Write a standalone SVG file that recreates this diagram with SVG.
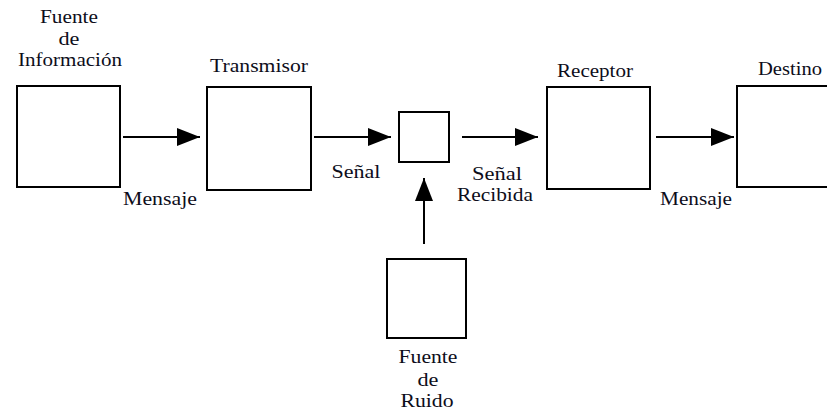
<svg xmlns="http://www.w3.org/2000/svg" width="827" height="410" viewBox="0 0 827 410">
<style>
.box{fill:#fff;stroke:#000;stroke-width:2}
.ln{stroke:#000;stroke-width:2;fill:none}
.t{font-family:'Liberation Serif','Times New Roman','DejaVu Serif',serif;font-size:18px;fill:#0d0d1a;text-anchor:middle}
</style>
<defs>
<marker id="ah" markerUnits="userSpaceOnUse" markerWidth="24" markerHeight="20" refX="23" refY="9" orient="auto">
<path d="M0,0 L23,9 L0,18 Z" fill="#000"/>
</marker>
</defs>
<rect width="827" height="410" fill="#fff"/>
<g id="fuente-informacion">
<rect class="box" x="17" y="86" width="103" height="101"/>
<text class="t" x="69" y="23" textLength="58" lengthAdjust="spacingAndGlyphs">Fuente</text>
<text class="t" x="69" y="45" textLength="21" lengthAdjust="spacingAndGlyphs">de</text>
<text class="t" x="70" y="66" textLength="104" lengthAdjust="spacingAndGlyphs">Información</text>
</g>
<g id="transmisor">
<rect class="box" x="207" y="87" width="104" height="103"/>
<text class="t" x="259" y="72" textLength="98" lengthAdjust="spacingAndGlyphs">Transmisor</text>
</g>
<g id="canal">
<rect class="box" x="399" y="112" width="50" height="50"/>
</g>
<g id="receptor">
<rect class="box" x="547" y="87" width="103" height="102"/>
<text class="t" x="595" y="77" textLength="76" lengthAdjust="spacingAndGlyphs">Receptor</text>
</g>
<g id="destino">
<rect class="box" x="737" y="86" width="100" height="101"/>
<text class="t" x="790" y="75" textLength="64" lengthAdjust="spacingAndGlyphs">Destino</text>
</g>
<g id="fuente-ruido">
<rect class="box" x="387" y="259" width="79" height="79"/>
<text class="t" x="428" y="363" textLength="59" lengthAdjust="spacingAndGlyphs">Fuente</text>
<text class="t" x="428" y="386" textLength="21" lengthAdjust="spacingAndGlyphs">de</text>
<text class="t" x="427" y="407" textLength="53" lengthAdjust="spacingAndGlyphs">Ruido</text>
</g>
<g id="connectors">
<line class="ln" x1="123" y1="137" x2="200" y2="137" marker-end="url(#ah)"/>
<line class="ln" x1="314" y1="137" x2="391" y2="137" marker-end="url(#ah)"/>
<line class="ln" x1="462" y1="137" x2="538" y2="137" marker-end="url(#ah)"/>
<line class="ln" x1="656" y1="137" x2="734" y2="137" marker-end="url(#ah)"/>
<line class="ln" x1="424" y1="244" x2="424" y2="178" marker-end="url(#ah)"/>
<text class="t" x="160" y="205" textLength="74" lengthAdjust="spacingAndGlyphs">Mensaje</text>
<text class="t" x="356" y="178" textLength="49" lengthAdjust="spacingAndGlyphs">Señal</text>
<text class="t" x="497" y="180" textLength="50" lengthAdjust="spacingAndGlyphs">Señal</text>
<text class="t" x="495" y="201" textLength="76" lengthAdjust="spacingAndGlyphs">Recibida</text>
<text class="t" x="696" y="205" textLength="72" lengthAdjust="spacingAndGlyphs">Mensaje</text>
</g>
</svg>
